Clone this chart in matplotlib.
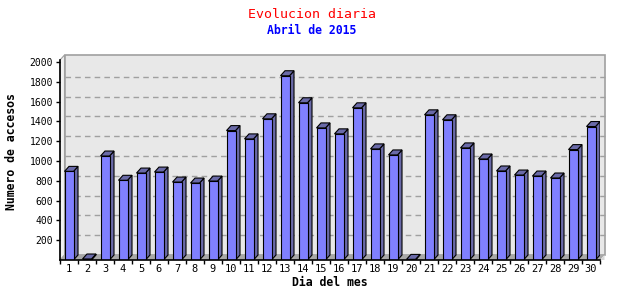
import matplotlib.pyplot as plt
from matplotlib.patches import Polygon, Rectangle

# Daily visits, April 2015
days = [str(d) for d in range(1, 31)]
visits = [895, 10, 1050, 805, 878, 888, 787, 777, 797, 1307,
          1223, 1426, 1861, 1588, 1334, 1274, 1537, 1122, 1061, 6,
          1466, 1416, 1132, 1020, 899, 858, 848, 828, 1115, 1348]
yticks = [200, 400, 600, 800, 1000, 1200, 1400, 1600, 1800, 2000]

plt.rcParams['font.family'] = 'DejaVu Sans Mono'

fig = plt.figure(figsize=(6.4, 3.0), dpi=100)
ax = fig.add_axes([60 / 640, 40 / 300, 540 / 640, 200 / 300])
ymax = 2020
ax.set_xlim(0, len(days))
ax.set_ylim(0, ymax)

# depth of the fake 3d effect (in data units)
dx = 0.25
dy = 50.5
n = len(days)

# back wall, left wall and floor
ax.add_patch(Polygon([(0, 0), (dx, dy), (dx, ymax + dy), (0, ymax)],
                     closed=True, facecolor='#f2f2f2', edgecolor='#a0a0a0',
                     lw=0.8, clip_on=False, zorder=0))
ax.add_patch(Rectangle((dx, dy), n, ymax, facecolor='#e8e8e8',
                       edgecolor='#a0a0a0', lw=1.2, clip_on=False, zorder=0))
ax.add_patch(Polygon([(0, 0), (dx, dy), (n + dx, dy), (n, 0)], closed=True,
                     facecolor='#a8a8a8', edgecolor='none',
                     clip_on=False, zorder=0.5))
ax.add_patch(Polygon([(n, 0), (n + dx, dy), (n + dx, 0)], closed=True,
                     facecolor='#d8d8d8', edgecolor='none',
                     clip_on=False, zorder=0.5))
for v in yticks[:-1]:
    ax.plot([dx, n + dx], [v + dy, v + dy], color='#a0a0a0', lw=1,
            linestyle=(0, (4, 3)), zorder=0.6, clip_on=False)

# bars
front = '#8080ff'
shade = '#6a6aa8'
w = 0.5
for i, v in enumerate(visits):
    x0 = i + 0.25
    ax.add_patch(Polygon([(x0 + w, 0), (x0 + w + dx, dy), (x0 + w + dx, v + dy), (x0 + w, v)],
                         closed=True, facecolor=shade, edgecolor='black', lw=0.8, zorder=2))
    ax.add_patch(Polygon([(x0, v), (x0 + dx, v + dy), (x0 + w + dx, v + dy), (x0 + w, v)],
                         closed=True, facecolor=shade, edgecolor='black', lw=0.8, zorder=2))
    ax.add_patch(Rectangle((x0, 0), w, v, facecolor=front, edgecolor='black',
                           lw=0.8, zorder=3))

ax.patch.set_visible(False)
for s in ['top', 'right']:
    ax.spines[s].set_visible(False)
for s in ['left', 'bottom']:
    ax.spines[s].set_linewidth(1.2)
    ax.spines[s].set_zorder(4)

ax.set_xticks(range(n + 1))
ax.set_xticklabels([])
ax.set_xticks([i + 0.5 for i in range(n)], minor=True)
ax.set_xticklabels(days, minor=True, fontsize=7.5)
ax.tick_params(axis='x', which='major', length=3, width=1, direction='out')
ax.tick_params(axis='x', which='minor', length=0, pad=3)
ax.set_yticks(yticks)
ax.set_yticklabels([str(t) for t in yticks], fontsize=7)
ax.tick_params(axis='y', length=3, width=1, direction='out', pad=2)

ax.set_xlabel('Dia del mes', fontsize=8.3, fontweight='bold', labelpad=1)
ax.set_ylabel('Numero de accesos', fontsize=8.3, fontweight='bold')
ax.yaxis.set_label_coords(-0.078, 0.54)

fig.text(312 / 640, 1 - 14 / 300, 'Evolucion diaria', color='red',
         fontsize=9.5, ha='center', va='center')
fig.text(312 / 640, 1 - 31 / 300, 'Abril de 2015', color='blue',
         fontsize=8.3, fontweight='bold', ha='center', va='center')

fig.savefig('out.png', dpi=100)
